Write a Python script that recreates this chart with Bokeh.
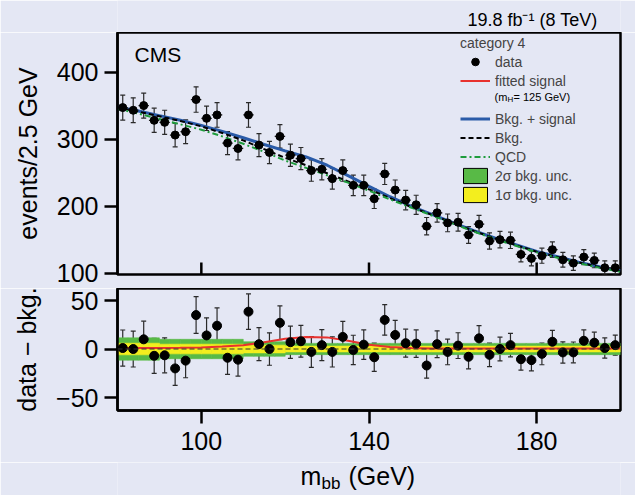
import numpy as np
from bokeh.plotting import figure
from bokeh.layouts import column
from bokeh.models import (Range1d, FixedTicker, ColumnDataSource, Whisker, TeeHead,
                          Legend, LegendItem, Label, Span)
from bokeh.embed import file_html
from bokeh.resources import INLINE

# ---------------- data ----------------
mass_low, mass_high, bin_width = 80.0, 200.0, 2.5

events = [347, 343, 350, 328, 325, 306, 311, 359, 331, 336, 294, 286,
          336, 291, 280, 304, 276, 271, 253, 255, 241, 253, 231, 231,
          211, 248, 224, 209, 202, 170, 190, 175, 176, 157, 173, 148,
          150, 149, 128, 122, 126, 135, 120, 115, 124, 119, 108, 108]

residual = [1, 0, 10, -7, -6.5, -20, -12, 35, 14, 24, -9, -11,
            38.5, 5, 0, 27, 7, 8, -3, 4, -3, 12.5, -1, 4.5,
            -8.5, 30, 14.5, 6, 5.5, -17, 5, -3, 3.5, -8, 11, -6,
            0, 4, -10.5, -11.5, -5, 7.5, -3.5, -3.5, 8.5, 6.5, 1, 4]

curve_mass = [80, 85, 90, 95, 100, 105, 110, 115, 120, 125, 130, 135, 140,
              145, 150, 155, 160, 165, 170, 175, 180, 185, 190, 195, 200]
bkg_fit = [347, 341, 334, 327, 319, 309, 298, 285, 272, 261, 249, 237, 225,
           212, 199, 187, 175, 163, 152, 142, 132, 124, 116, 109, 103]
qcd_fit = [345, 338, 330, 322, 314, 304, 293, 281, 268, 257, 246, 235, 223,
           210, 198, 186, 174, 162, 151, 141, 131, 123, 115, 108, 102]
signal_fit = [1, 1, 1, 1.2, 1.5, 2.5, 4, 7, 10.5, 12.5, 12, 8.5, 4.5,
              2, 1, 0.6, 0.5, 0.5, 0.5, 0.5, 0.5, 0.5, 0.5, 0.5, 0.5]

band_2sigma = [11.5, 11.5, 11.5, 11.5, 10, 10, 10, 10, 10, 10, 10, 10,
               7.5, 7.5, 7.5, 7.5, 5.8, 5.8, 5.8, 5.8, 5.8, 5.8, 5.8, 5.8,
               5.8, 5.8, 5.8, 5.8, 5.8, 5.8, 5.8, 5.8, 5.8, 5.8, 5.8, 5.8,
               5.8, 5.8, 5.8, 5.8, 5.8, 5.8, 5.8, 5.8, 5.8, 5.8, 5.8, 5.8]
band_1sigma = [6, 6, 6, 6, 5, 5, 5, 5, 5, 5, 5, 5,
               4, 4, 4, 4, 3, 3, 3, 3, 3, 3, 3, 3,
               3, 3, 3, 3, 3, 3, 3, 3, 3, 3, 3, 3,
               3, 3, 3, 3, 3, 3, 3, 3, 3, 3, 3, 3]

top_yticks = [100, 200, 300, 400]
bottom_yticks = [-50, 0, 50]
x_ticks = [100, 140, 180]
top_ylim = (98, 459)
bottom_ylim = (-63.4, 62.4)

# ---------------- styling ----------------
BG = "#E4E7F4"
FONT = "Liberation Sans"
RED = "#E8322E"
BLUE = "#2A5BA8"
GREEN_LINE = "#1E9C3C"
GREEN_BAND = "#58BA46"
YELLOW_BAND = "#F3EE1E"
ERR = "#2a2a2a"
FRAME_W = 503
LEFT, RIGHT = 117, 15
TOP_FRAME_H, BOT_FRAME_H = 242, 122

n = len(events)
centers = mass_low + bin_width * (np.arange(n) + 0.5)
ev = np.array(events, dtype=float)
err = np.sqrt(ev)
res = np.array(residual, dtype=float)
blue_fit = np.array(bkg_fit) + np.array(signal_fit)
b2 = np.array(band_2sigma)
b1 = np.array(band_1sigma)

x_range = Range1d(mass_low, mass_high)


def style(p):
    p.background_fill_color = BG
    p.border_fill_color = BG
    p.outline_line_color = "black"
    p.outline_line_width = 2.5
    p.grid.visible = False
    for ax in p.axis:
        ax.axis_line_width = 2.5
        ax.major_tick_line_width = 2.5
        ax.minor_tick_line_color = None
        ax.major_label_text_font = FONT
        ax.major_label_text_font_size = "25px"
        ax.major_label_text_color = "black"
        ax.axis_label_text_font = FONT
        ax.axis_label_text_font_size = "25px"
        ax.axis_label_text_font_style = "normal"
        ax.axis_label_text_color = "black"


def text_strip(height):
    # plain strip (no axes) aligned with the panels' frames; label x is measured from x=117
    s = figure(frame_width=FRAME_W, height=height, x_range=Range1d(0, 1), y_range=Range1d(0, 1),
               x_axis_location=None, y_axis_location=None, output_backend="svg",
               toolbar_location=None, min_border_left=LEFT, min_border_right=RIGHT,
               min_border_top=0, min_border_bottom=0)
    s.background_fill_color = BG
    s.border_fill_color = BG
    s.outline_line_color = None
    s.grid.visible = False
    return s


def label(p, x, y, text, size, align="left"):
    p.add_layout(Label(x=x, y=y, x_units="screen", y_units="screen", text=text,
                       text_align=align, text_baseline="middle",
                       text_font=FONT, text_font_size=size, text_color="black"))


# ---------------- header (luminosity text) ----------------
header = text_strip(32)
label(header, 485, 12.5, "19.8 fb\u207b\u00b9  (8 TeV)", "18px", align="right")

# ---------------- top panel ----------------
top = figure(frame_width=FRAME_W, frame_height=TOP_FRAME_H, x_range=x_range,
             y_range=Range1d(*top_ylim), x_axis_location=None, output_backend="svg",
             toolbar_location=None, min_border_left=LEFT, min_border_right=RIGHT,
             min_border_top=0, min_border_bottom=14)
style(top)
top.yaxis.ticker = FixedTicker(ticks=top_yticks)
top.yaxis.major_tick_in = 0
top.yaxis.major_tick_out = 13
top.yaxis.major_label_standoff = 6
top.yaxis.axis_label = "events/2.5 GeV"
top.yaxis.axis_label_standoff = 12

# inward x ticks on the bottom edge of the upper panel (12 px long)
tick_len = 12 * (top_ylim[1] - top_ylim[0]) / TOP_FRAME_H
top.segment(x0=x_ticks, y0=[top_ylim[0]] * 3, x1=x_ticks, y1=[top_ylim[0] + tick_len] * 3,
            line_color="black", line_width=2.5)

# signal and uncertainty bands: drawn here only to supply legend samples (they lie below the range)
r_sig = top.line(curve_mass, signal_fit, line_color=RED, line_width=2)
r_mh = top.line(curve_mass, signal_fit, line_alpha=0)
band_src = ColumnDataSource(dict(l=centers - bin_width / 2, r=centers + bin_width / 2,
                                 b2lo=-b2, b2hi=b2, b1lo=-b1, b1hi=b1))
r_2s = top.quad(left="l", right="r", bottom="b2lo", top="b2hi", source=band_src,
                fill_color=GREEN_BAND, line_color="black", line_width=1)
r_1s = top.quad(left="l", right="r", bottom="b1lo", top="b1hi", source=band_src,
                fill_color=YELLOW_BAND, line_color="black", line_width=1)

r_bs = top.line(curve_mass, blue_fit, line_color=BLUE, line_width=3)
r_bkg = top.line(curve_mass, bkg_fit, line_color="black", line_width=2, line_dash="5 3")
r_qcd = top.line(curve_mass, qcd_fit, line_color=GREEN_LINE, line_width=2, line_dash="6 3 2 3")

src_top = ColumnDataSource(dict(x=centers, y=ev, lo=ev - err, hi=ev + err,
                                x0=centers - bin_width / 2, x1=centers + bin_width / 2))
top.add_layout(Whisker(source=src_top, base="x", lower="lo", upper="hi",
                       line_color=ERR, line_width=1.2,
                       lower_head=TeeHead(size=5, line_color=ERR, line_width=1.2),
                       upper_head=TeeHead(size=5, line_color=ERR, line_width=1.2)))
top.segment(x0="x0", y0="y", x1="x1", y1="y", source=src_top, line_color=ERR, line_width=1.2)
r_data = top.scatter("x", "y", source=src_top, size=8, color="black")

legend = Legend(items=[
    LegendItem(label="data", renderers=[r_data]),
    LegendItem(label="fitted signal", renderers=[r_sig]),
    LegendItem(label=" ", renderers=[r_mh]),
    LegendItem(label="Bkg. + signal", renderers=[r_bs]),
    LegendItem(label="Bkg.", renderers=[r_bkg]),
    LegendItem(label="QCD", renderers=[r_qcd]),
    LegendItem(label="2\u03c3 bkg. unc.", renderers=[r_2s]),
    LegendItem(label="1\u03c3 bkg. unc.", renderers=[r_1s]),
], location=(343, 70), title="category 4")
legend.background_fill_alpha = 0
legend.border_line_color = None
legend.padding = 0
legend.margin = 0
legend.spacing = 0
legend.glyph_width = 30
legend.glyph_height = 19
legend.label_height = 19
legend.label_standoff = 5
legend.label_text_font = FONT
legend.label_text_font_size = "14px"
legend.title_text_font = FONT
legend.title_text_font_size = "14px"
legend.title_text_font_style = "normal"
legend.title_standoff = 1
top.add_layout(legend)

# m_H sub-label of the legend
label(top, 377, 178, "(m", "11px")
label(top, 390, 175, "H", "8px")
label(top, 396, 178, " = 125 GeV)", "11px")

label(top, 17, 220, "CMS", "21px")

# ---------------- bottom panel ----------------
bot = figure(frame_width=FRAME_W, frame_height=BOT_FRAME_H, x_range=x_range,
             y_range=Range1d(*bottom_ylim), output_backend="svg",
             toolbar_location=None, min_border_left=LEFT, min_border_right=RIGHT,
             min_border_top=0, min_border_bottom=52)
style(bot)
bot.xaxis.ticker = FixedTicker(ticks=x_ticks)
bot.xaxis.major_tick_in = 0
bot.xaxis.major_tick_out = 13
bot.xaxis.major_label_standoff = 8
bot.yaxis.ticker = FixedTicker(ticks=bottom_yticks)
bot.yaxis.major_label_overrides = {-50: "\u221250", 0: "0", 50: "50"}
bot.yaxis.major_tick_in = 0
bot.yaxis.major_tick_out = 13
bot.yaxis.major_label_standoff = 6
bot.yaxis.axis_label = "data \u2212 bkg."
bot.yaxis.axis_label_standoff = 12

bot.quad(left="l", right="r", bottom="b2lo", top="b2hi", source=band_src,
         fill_color=GREEN_BAND, line_color=GREEN_BAND, line_width=0.6)
bot.quad(left="l", right="r", bottom="b1lo", top="b1hi", source=band_src,
         fill_color=YELLOW_BAND, line_color=YELLOW_BAND, line_width=0.6)
bot.add_layout(Span(location=0, dimension="width", line_color="#333333",
                    line_width=1, line_dash="5 3"))
bot.line(curve_mass, signal_fit, line_color=RED, line_width=2)

src_bot = ColumnDataSource(dict(x=centers, y=res, lo=res - err, hi=res + err))
bot.add_layout(Whisker(source=src_bot, base="x", lower="lo", upper="hi",
                       line_color=ERR, line_width=1.2,
                       lower_head=TeeHead(size=5, line_color=ERR, line_width=1.2),
                       upper_head=TeeHead(size=5, line_color=ERR, line_width=1.2)))
bot.scatter("x", "y", source=src_bot, size=9, color="black")

# ---------------- footer: x-axis title  m_bb (GeV) ----------------
footer = text_strip(33)
label(footer, 183, 20, "m", "25px")
label(footer, 204, 12, "bb", "17px")
label(footer, 231, 20, "(GeV)", "25px")

layout = column(header, top, bot, footer, spacing=0)
html = file_html(layout, INLINE, title="CMS m_bb category 4")
html = html.replace("<body>", '<body style="background-color:%s">' % BG, 1)
open("out.html", "w").write(html)
